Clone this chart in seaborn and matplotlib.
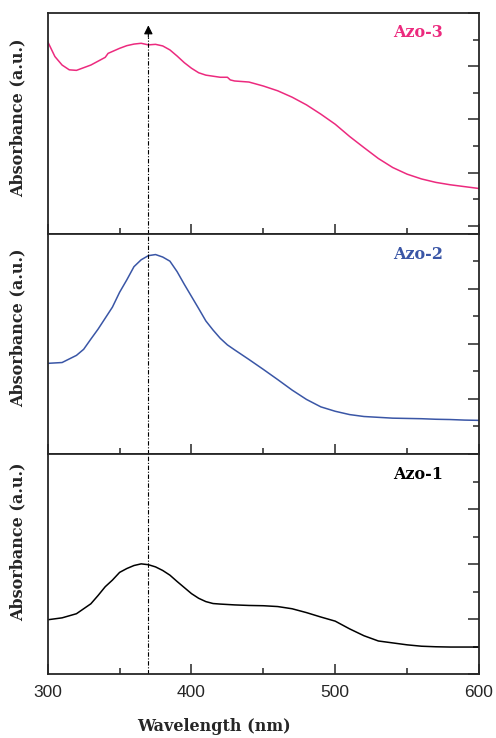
import numpy as np
import pandas as pd
import matplotlib
matplotlib.use('Agg')
import matplotlib.pyplot as plt
from matplotlib.ticker import MultipleLocator
import seaborn as sns

# absorbance spectra (arbitrary units)
wl_azo1 = [300, 310, 320, 330, 335, 340, 345, 350, 355, 360, 365, 370, 375, 380, 385, 390, 395, 400, 405,
           410, 415, 420, 430, 440, 450, 460, 470, 480, 490, 500, 510, 520, 530, 540, 550, 560, 570, 580, 590, 600]
abs_azo1 = [1.98, 2.05, 2.2, 2.56, 2.86, 3.18, 3.42, 3.7, 3.84, 3.95, 4.01, 3.98, 3.9, 3.77, 3.6, 3.37, 3.15, 2.93, 2.76,
            2.64, 2.57, 2.55, 2.52, 2.5, 2.49, 2.46, 2.38, 2.24, 2.08, 1.93, 1.65, 1.4, 1.21, 1.14, 1.07, 1.02, 1.0, 0.99, 0.99, 0.99]

wl_azo2 = [300, 310, 320, 325, 330, 335, 340, 345, 350, 355, 360, 365, 370, 375, 380, 385, 390, 395, 400, 405,
           410, 415, 420, 425, 430, 440, 450, 460, 470, 480, 490, 500, 510, 520, 530, 540, 550, 560, 570, 580, 590, 600]
abs_azo2 = [3.29, 3.32, 3.58, 3.8, 4.17, 4.53, 4.93, 5.33, 5.87, 6.32, 6.8, 7.05, 7.2, 7.24, 7.15, 7.0, 6.62, 6.16, 5.72, 5.28,
            4.83, 4.5, 4.2, 3.96, 3.78, 3.43, 3.07, 2.7, 2.32, 1.98, 1.71, 1.55, 1.43, 1.36, 1.33, 1.3, 1.29, 1.28, 1.26, 1.25, 1.23, 1.22]

wl_azo3 = [300, 305, 310, 315, 320, 330, 340, 342, 350, 355, 360, 365, 370, 375, 380, 385, 390, 395, 400, 405, 410, 420,
           425, 427, 430, 440, 450, 460, 470, 480, 490, 500, 510, 520, 530, 540, 550, 560, 570, 580, 590, 600]
abs_azo3 = [6.93, 6.37, 6.05, 5.87, 5.85, 6.05, 6.34, 6.49, 6.68, 6.78, 6.84, 6.87, 6.81, 6.83, 6.77, 6.62, 6.39, 6.14, 5.93, 5.76, 5.67, 5.59,
            5.59, 5.49, 5.45, 5.41, 5.26, 5.08, 4.84, 4.55, 4.2, 3.82, 3.36, 2.94, 2.53, 2.19, 1.94, 1.76, 1.63, 1.54, 1.47, 1.40]

names = ['Azo-3', 'Azo-2', 'Azo-1']
colors = ['#EC2A7E', '#3A56A6', '#000000']
peak_wl = 370

sns.set_style('ticks')
plt.rcParams['font.family'] = ['Liberation Sans', 'DejaVu Sans']
serif = ['DejaVu Serif']

fig, axes = plt.subplots(3, 1, figsize=(4.96, 7.38), dpi=100, sharex=True)
plt.subplots_adjust(left=0.0962, right=0.9657, top=0.982, bottom=0.0863, hspace=0)

data = [(wl_azo3, abs_azo3), (wl_azo2, abs_azo2), (wl_azo1, abs_azo1)]
ylims = [(-0.3, 8.0), (0, 8), (0, 8)]
label_y = [0.528, 0.574, 0.6]

for i, ax in enumerate(axes):
    df = pd.DataFrame({'wl': data[i][0], 'abs': data[i][1]})
    sns.lineplot(data=df, x='wl', y='abs', ax=ax, color=colors[i], lw=1.1)
    ax.set_xlim(300, 600)
    ax.set_ylim(*ylims[i])
    ax.xaxis.set_major_locator(MultipleLocator(100))
    ax.xaxis.set_minor_locator(MultipleLocator(50))
    ax.yaxis.set_major_locator(MultipleLocator(2))
    ax.yaxis.set_minor_locator(MultipleLocator(1))
    ax.tick_params(axis='x', which='both', direction='in', top=False, bottom=True, width=1.1)
    ax.tick_params(axis='x', which='major', length=7)
    ax.tick_params(axis='x', which='minor', length=4)
    ax.tick_params(axis='y', which='both', direction='in', left=False, right=True,
                   labelleft=False, labelright=False, width=1.1)
    ax.tick_params(axis='y', which='major', length=8)
    ax.tick_params(axis='y', which='minor', length=4)
    for sp in ax.spines.values():
        sp.set_linewidth(1.3)
        sp.set_visible(True)
    ax.set_xlabel('')
    ax.set_ylabel('Absorbance (a.u.)', family=serif, fontweight='bold', fontsize=11.5)
    ax.yaxis.set_label_coords(-0.05, label_y[i])
    ax.text(0.859, 0.905 if i else 0.911, names[i], transform=ax.transAxes, ha='center', va='center',
            color=colors[i], family=serif, fontweight='bold', fontsize=11.5)

# dash-dot guide at the peak with arrow head on top
for ax in axes[1:]:
    ax.axvline(peak_wl, color='k', lw=0.8, ls=(0, (4, 1.5, 1, 1.5)))
axes[0].plot([peak_wl, peak_wl], [-0.3, 7.1], color='k', lw=0.8, ls=(0, (4, 1.5, 1, 1.5)))
axes[0].annotate('', xy=(peak_wl, 7.65), xytext=(peak_wl, 7.0),
                 arrowprops=dict(arrowstyle='-|>', color='k', lw=0.8, mutation_scale=13))

axes[2].tick_params(axis='x', labelsize=12.5, pad=8)
axes[2].set_xlabel('Wavelength (nm)', family=serif, fontweight='bold', fontsize=11.5)
axes[2].xaxis.set_label_coords(0.386, -0.198)

plt.savefig('out.png', dpi=100)
